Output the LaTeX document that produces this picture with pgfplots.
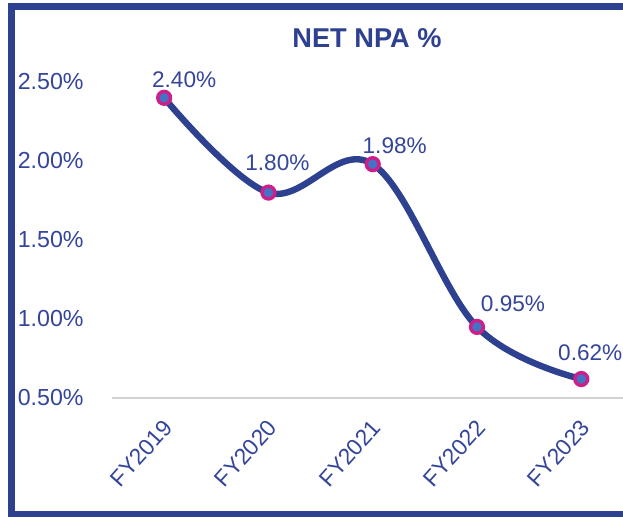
\documentclass[border=0pt]{standalone}
\usepackage{pgfplots}
\pgfplotsset{compat=1.18}
\usepackage{pgfplotstable}
\usepackage{fontspec}
\setmainfont{Liberation Sans}
\definecolor{navy}{HTML}{2E4191}
\definecolor{lbl}{HTML}{34459A}
\definecolor{ring}{HTML}{CC1F8A}
\definecolor{dot}{HTML}{4472C4}
\pgfplotstableread{
x y dx dy
0 2.40 10 9
1 1.80 4.5 15
2 1.98 11 9
3 0.95 18 11.5
4 0.62 4.5 13
}\npa
\begin{document}
\begin{tikzpicture}
\fill[white] (0,0) rectangle (311.5pt,-258.5pt);
\begin{axis}[at={(56pt,-199pt)}, anchor=south west, scale only axis,
  width=255.5pt, height=158pt, xmin=-0.5, xmax=4.4, ymin=0.5, ymax=2.5, clip=false,
  /pgf/number format/assume math mode=true,
  axis x line*=bottom, axis y line*=left,
  x axis line style={draw=gray!35, line width=1pt, -},
  y axis line style={draw=none, -},
  major tick length=0pt,
  xtick={0,1,2,3,4}, xticklabels={FY2019,FY2020,FY2021,FY2022,FY2023},
  ytick={0.5,1,1.5,2,2.5}, yticklabels={0.50\%,1.00\%,1.50\%,2.00\%,2.50\%},
  tick label style={text=lbl},
  xticklabel style={font=\fontsize{11.4}{13}\selectfont, rotate=48, anchor=east, inner sep=0pt, xshift=-8pt, yshift=-10pt},
  yticklabel style={font=\fontsize{11.6}{13}\selectfont, anchor=east, inner sep=0pt, xshift=-14pt},
]
\addplot[navy, line width=3.2pt, smooth, tension=0.6, mark=*, mark size=3.2pt,
  mark options={draw=ring, fill=dot, line width=1.7pt},
  point meta=y,
  nodes near coords={\pgfmathprintnumber[fixed,fixed zerofill,precision=2,assume math mode=true]{\pgfplotspointmeta}\%},
  visualization depends on={\thisrow{dx}\as\dx},
  visualization depends on={\thisrow{dy}\as\dy},
  every node near coord/.append style={anchor=center, inner sep=0pt, xshift=\dx pt, yshift=\dy pt,
    font=\fontsize{11.3}{13}\selectfont, text=lbl}]
  table[x=x,y=y]{\npa};
\end{axis}
\node[font=\bfseries\fontsize{13.6}{15}\selectfont, text=navy] at (183.5pt,-19pt) {NET NPA \%};
\draw[navy, line width=3.5pt] (5.75pt,-3.5pt) rectangle (330pt,-257.5pt);
\pgfresetboundingbox
\path[use as bounding box] (0,0) rectangle (311.5pt,-258.5pt);
\end{tikzpicture}
\end{document}
